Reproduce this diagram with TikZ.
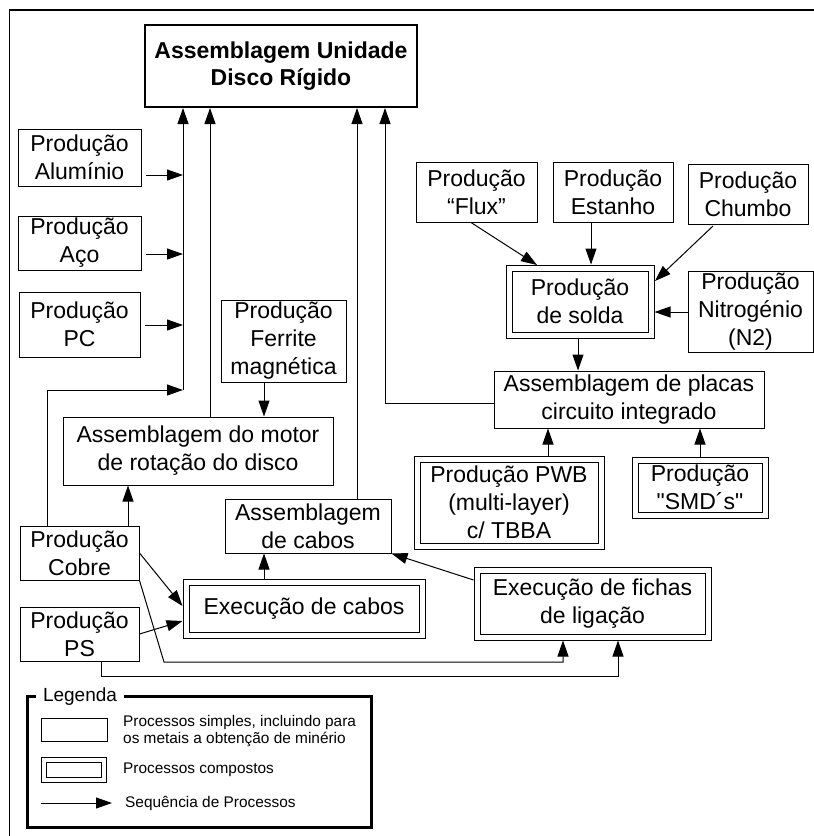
\documentclass[tikz,border=0pt]{standalone}
\usepackage{fontspec}
\setmainfont{Liberation Sans}[Ligatures=TeXOff]
\usetikzlibrary{arrows.meta}
\begin{document}
\begin{tikzpicture}[x=1pt,y=-1pt,
  box/.style={draw, line width=1pt, inner sep=0pt, align=center, font=\fontsize{23}{28}\selectfont},
  dbox/.style={box, double, double distance=5pt, outer sep=3.5pt},
  arr/.style={line width=1pt, -{Triangle[length=16pt,width=11pt]}},
  ln/.style={line width=1pt},
  legf/.style={font=\fontsize{15.4}{17}\selectfont, inner sep=0pt}]
\useasboundingbox (0,0) rectangle (814,836);
% outer frame (top and left only)
\coordinate (fA) at (9,10);
\coordinate (fB) at (814,10);
\coordinate (fC) at (9,836);
\draw[line width=2pt] (fA) -- (fB);
\draw[line width=1pt] (fA) -- (fC);

% main
\node[box, line width=2pt, minimum width=272pt, minimum height=82pt, font=\bfseries\fontsize{23}{27}\selectfont] (main) at (281,66) {Assemblagem Unidade\\Disco Rígido};

% left column
\node[box, minimum width=123pt, minimum height=57pt] (alu) at (79.5,157.5) {Produção\\Alumínio};
\node[box, minimum width=123pt, minimum height=54pt] (aco) at (79.5,243) {Produção\\Aço};
\node[box, minimum width=121pt, minimum height=65pt] (pc) at (79.5,324.5) {Produção\\PC};
\node[box, minimum width=125pt, minimum height=82pt] (ferr) at (283.5,341) {Produção\\Ferrite\\magnética};
\node[box, minimum width=270pt, minimum height=68pt] (motor) at (198,451) {Assemblagem do motor\\de rotação do disco};
\node[box, minimum width=119pt, minimum height=54pt] (cobre) at (79.5,553) {Produção\\Cobre};
\node[box, minimum width=119pt, minimum height=54pt] (ps) at (79.5,634) {Produção\\PS};
\node[box, minimum width=166pt, minimum height=54pt] (cabos) at (308,526) {Assemblagem\\de cabos};
\node[dbox, minimum width=236pt, minimum height=53pt] (execc) at (304,608.5) {Execução de cabos};
\node[dbox, minimum width=231pt, minimum height=67pt] (fichas) at (592.5,603.5) {Execução de fichas\\de ligação};

% right part
\node[box, minimum width=121pt, minimum height=60pt] (flux) at (476.5,192) {Produção\\“Flux”};
\node[box, minimum width=120pt, minimum height=60pt] (estanho) at (613,192) {Produção\\Estanho};
\node[box, minimum width=120pt, minimum height=60pt] (chumbo) at (748,194) {Produção\\Chumbo};
\node[dbox, minimum width=142pt, minimum height=67pt] (solda) at (580,301.5) {Produção\\de solda};
\node[box, minimum width=125pt, minimum height=81pt] (nitro) at (750.5,311.5) {Produção\\Nitrogénio\\(N2)};
\node[box, minimum width=270pt, minimum height=57pt] (placas) at (629,399.5) {Assemblagem de placas\\circuito integrado};
\node[dbox, minimum width=184pt, minimum height=87pt] (pwb) at (509,502.5) {Produção PWB\\(multi-layer)\\c/ TBBA};
\node[dbox, minimum width=130pt, minimum height=55pt] (smd) at (700,487.5) {Produção\\"SMD´s"};

% bus coordinates
\coordinate (bA) at (183,175);
\coordinate (bB) at (183,254);
\coordinate (bC) at (183,325);
\coordinate (bD) at (183,390);
\coordinate (cU) at (47,390);

\draw[arr] ([xshift=4pt]alu.east |- bA) -- (bA);
\draw[arr] ([xshift=4pt]aco.east |- bB) -- (bB);
\draw[arr] ([xshift=4pt]pc.east |- bC) -- (bC);
\draw[arr] (cobre.north -| cU) -- (cU) -- (bD);
\draw[arr] (bD) -- (bD |- main.south);
\draw[arr] (210,0 |- motor.north) -- (210,0 |- main.south);
\draw[arr] (264,0 |- ferr.south) -- (264,0 |- motor.north);
\draw[arr] (128,0 |- cobre.north) -- (128,0 |- motor.south);
\draw[arr] (357,0 |- cabos.north) -- (357,0 |- main.south);
\coordinate (pL) at (385,403);
\draw[arr] (placas.west |- pL) -- (pL) -- (pL |- main.south);

\draw[arr] (471,0 |- flux.south) -- (537,265);
\draw[arr] (591,0 |- estanho.south) -- (591,0 |- solda.north);
\draw[arr] (713,226) -- (655,281);
\draw[arr] (nitro.west |- 0,312) -- (solda.east |- 0,312);
\draw[arr] (578,0 |- solda.south) -- (578,0 |- placas.north);
\draw[arr] (548,0 |- pwb.north) -- (548,0 |- placas.south);
\draw[arr] (smd.north) -- (smd.north |- placas.south);

\draw[arr] (264,0 |- execc.north) -- (264,0 |- cabos.south);
\draw[arr] (fichas.west |- 0,580) -- (cabos.south east);
\draw[arr] (cobre.east) -- (execc.west |- 0,606);
\draw[arr] (ps.east) -- (execc.west |- 0,621);

\coordinate (k1) at (164,662);
\coordinate (k2) at (563,662);
\coordinate (k3) at (101,676);
\coordinate (k4) at (618,676);
\draw[arr] (cobre.south east) -- (k1) -- (k2) -- (k2 |- fichas.south);
\draw[arr] (k3 |- ps.south) -- (k3) -- (k4) -- (k4 |- fichas.south);

% legend
\node[draw, line width=3pt, minimum width=344pt, minimum height=131pt, inner sep=0pt] (legframe) at (199,761.5) {};
\node[fill=white, inner sep=7pt, font=\fontsize{19}{22}\selectfont] (legtitle) at (80,697) {Legenda};
\node[draw, line width=1pt, minimum width=66pt, minimum height=23pt, inner sep=0pt] (ls) at (74,729.5) {};
\node[draw, line width=1pt, double, double distance=4pt, minimum width=60pt, minimum height=20pt, inner sep=0pt] (lc) at (74,769.5) {};
\coordinate (la1) at (41,803);
\coordinate (la2) at (112,803);
\draw[arr] (la1) -- (la2);
\node[legf, anchor=west, align=left] (lt1) at (123,731) {Processos simples, incluindo para\\os metais a obtenção de minério};
\node[legf, anchor=west] (lt2) at (123,769.5) {Processos compostos};
\node[legf, anchor=west] (lt3) at (125,803) {Sequência de Processos};
\end{tikzpicture}
\end{document}
